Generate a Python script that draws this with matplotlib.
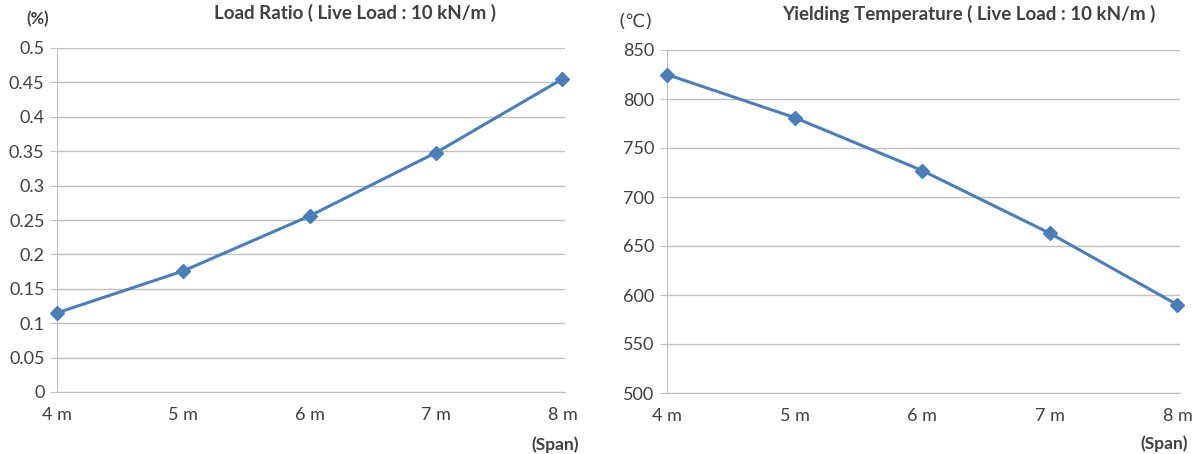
import matplotlib
matplotlib.use("Agg")
import matplotlib.pyplot as plt

spans = ["4 m", "5 m", "6 m", "7 m", "8 m"]
span_values = [4, 5, 6, 7, 8]
load_ratio = [0.115, 0.176, 0.256, 0.348, 0.455]
yield_temp = [825, 781, 727, 663, 590]

left_title = "Load Ratio ( Live Load : 10 kN/m )"
right_title = "Yielding Temperature ( Live Load : 10 kN/m )"
left_unit = "(%)"
right_unit = "(\u2103)"
left_yticks = [0, 0.05, 0.1, 0.15, 0.2, 0.25, 0.3, 0.35, 0.4, 0.45, 0.5]
left_yticklabels = ["0", "0.05", "0.1", "0.15", "0.2", "0.25", "0.3", "0.35", "0.4", "0.45", "0.5"]
right_yticks = [500, 550, 600, 650, 700, 750, 800, 850]

plt.rcParams['font.family'] = ['Lato', 'DejaVu Sans']

LINE = "#4A7EBB"
GRID = "#BFBFBF"
TXT = "#404040"

fig = plt.figure(figsize=(11.97, 4.54), dpi=100)
ax1 = fig.add_axes([57/1197, 1-392/454, (565-57)/1197, (392-48)/454])
ax2 = fig.add_axes([667/1197, 1-393/454, (1180-667)/1197, (393-50)/454])

def style(ax, data, yticks, ylabels, ylim):
    ax.plot(span_values, data, color=LINE, lw=2.2, marker="D", ms=7.5,
            markerfacecolor=LINE, markeredgecolor=LINE, zorder=3, clip_on=False)
    ax.set_xlim(4, 8.02)
    ax.set_ylim(*ylim)
    ax.set_yticks(yticks)
    ax.set_yticklabels(ylabels)
    ax.set_xticks(span_values)
    ax.set_xticklabels(spans)
    ax.grid(axis="y", color=GRID, lw=1)
    ax.set_axisbelow(True)
    for s in ["top", "right"]:
        ax.spines[s].set_visible(False)
    ax.spines["left"].set_color(GRID)
    ax.spines["bottom"].set_color(GRID)
    ax.tick_params(axis="y", length=5, color=GRID, labelsize=13, labelcolor=TXT, pad=4)
    ax.tick_params(axis="x", length=0, labelsize=13, labelcolor=TXT, pad=11)

style(ax1, load_ratio, left_yticks, left_yticklabels, (0, 0.5))
style(ax2, yield_temp, right_yticks, [str(v) for v in right_yticks], (500, 850))

fig.text(355/1197, 1-13/454, left_title, ha="center", va="center", fontsize=13.5,
         fontweight="bold", color=TXT)
fig.text(969/1197, 1-14/454, right_title, ha="center", va="center", fontsize=13.5,
         fontweight="bold", color=TXT)
fig.text(38/1197, 1-19/454, left_unit, ha="center", va="center", fontsize=12,
         fontweight="bold", color=TXT)
fig.text(636/1197, 1-22/454, right_unit, ha="center", va="center", fontsize=13,
         color=TXT, family=['DejaVu Sans'])
fig.text(579/1197, 1-445/454, "(Span)", ha="right", va="center", fontsize=12.5,
         fontweight="bold", color=TXT)
fig.text(1188/1197, 1-444/454, "(Span)", ha="right", va="center", fontsize=12.5,
         fontweight="bold", color=TXT)

fig.savefig("out.png", dpi=100, facecolor="white")
